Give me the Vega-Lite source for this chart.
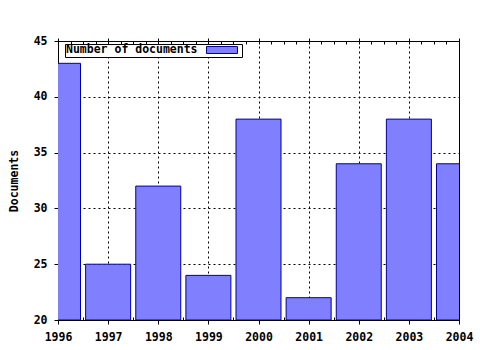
{
  "$schema": "https://vega.github.io/schema/vega-lite/v6.json",
  "width": 401,
  "height": 279,
  "autosize": {"type": "none"},
  "padding": {"left": 58, "top": 41, "right": 21, "bottom": 30},
  "background": "white",
  "data": {
    "values": [
      {"year": 1996, "docs": 43},
      {"year": 1997, "docs": 25},
      {"year": 1998, "docs": 32},
      {"year": 1999, "docs": 24},
      {"year": 2000, "docs": 38},
      {"year": 2001, "docs": 22},
      {"year": 2002, "docs": 34},
      {"year": 2003, "docs": 38},
      {"year": 2004, "docs": 34}
    ]
  },
  "config": {
    "view": {"stroke": "black", "strokeWidth": 1},
    "scale": {"continuousPadding": 0},
    "axis": {
      "domainColor": "black",
      "tickColor": "black",
      "labelColor": "black",
      "titleColor": "black",
      "labelFont": "DejaVu Sans Mono",
      "labelFontSize": 11.5,
      "labelFontWeight": "bold",
      "titleFont": "DejaVu Sans Mono",
      "titleFontSize": 11.5,
      "titleFontWeight": "bold",
      "gridColor": "black",
      "gridDash": [2, 3],
      "gridOpacity": 1,
      "gridWidth": 1,
      "labelFlush": false,
      "labelOverlap": false
    }
  },
  "layer": [
    {
      "mark": {"type": "bar", "size": 45, "clip": true, "stroke": "#0000a0", "strokeWidth": 1, "opacity": 1},
      "encoding": {
        "x": {
          "field": "year", "type": "quantitative",
          "scale": {"domain": [1996, 2004], "nice": false, "zero": false, "padding": 0},
          "axis": {"orient": "bottom", "values": [1996, 1997, 1998, 1999, 2000, 2001, 2002, 2003, 2004], "format": "d", "tickSize": 4, "labelPadding": 7, "grid": true, "title": null}
        },
        "y": {
          "field": "docs", "type": "quantitative",
          "scale": {"domain": [20, 45], "nice": false, "zero": false, "padding": 0},
          "axis": {"orient": "left", "values": [20, 25, 30, 35, 40, 45], "tickSize": 4, "labelPadding": 7, "grid": true, "title": "Documents", "titlePadding": 14}
        },
        "y2": {"datum": 20},
        "color": {
          "datum": "Number of documents",
          "scale": {"range": ["#8080ff"]},
          "legend": {
            "orient": "none", "legendX": 7, "legendY": 3,
            "title": "Number of documents", "titleOrient": "left",
            "titleFont": "DejaVu Sans Mono", "titleFontSize": 11.5, "titleFontWeight": "bold", "titleColor": "black",
            "titlePadding": 19,
            "labelExpr": "''", "labelOffset": 14,
            "symbolType": "M-4.43,-1H4.43V1H-4.43Z", "symbolSize": 49,
            "symbolStrokeColor": "#0000a0", "symbolStrokeWidth": 1, "symbolOpacity": 1,
            "strokeColor": "black", "fillColor": "white", "padding": 1
          }
        }
      }
    },
    {
      "mark": {"type": "point", "opacity": 0},
      "encoding": {
        "x": {
          "field": "year", "type": "quantitative",
          "axis": {"orient": "bottom", "values": [1996.25, 1996.5, 1996.75, 1997.25, 1997.5, 1997.75, 1998.25, 1998.5, 1998.75, 1999.25, 1999.5, 1999.75, 2000.25, 2000.5, 2000.75, 2001.25, 2001.5, 2001.75, 2002.25, 2002.5, 2002.75, 2003.25, 2003.5, 2003.75], "tickSize": -3, "labels": false, "domain": false, "grid": false, "title": null}
        },
        "y": {"field": "docs", "type": "quantitative", "axis": null}
      }
    },
    {
      "mark": {"type": "point", "opacity": 0},
      "encoding": {
        "x": {
          "field": "year", "type": "quantitative",
          "axis": {"orient": "top", "values": [1996, 1996.25, 1996.5, 1996.75, 1997, 1997.25, 1997.5, 1997.75, 1998, 1998.25, 1998.5, 1998.75, 1999, 1999.25, 1999.5, 1999.75, 2000, 2000.25, 2000.5, 2000.75, 2001, 2001.25, 2001.5, 2001.75, 2002, 2002.25, 2002.5, 2002.75, 2003, 2003.25, 2003.5, 2003.75, 2004], "tickSize": -3, "labels": false, "domain": false, "grid": false, "title": null}
        },
        "y": {"field": "docs", "type": "quantitative", "axis": null}
      }
    },
    {
      "mark": {"type": "point", "opacity": 0},
      "encoding": {
        "x": {
          "field": "year", "type": "quantitative",
          "axis": {"orient": "top", "values": [1996, 1997, 1998, 1999, 2000, 2001, 2002, 2003, 2004], "tickSize": 3, "labels": false, "domain": true, "grid": false, "title": null}
        },
        "y": {"field": "docs", "type": "quantitative", "axis": null}
      }
    }
  ],
  "resolve": {"axis": {"x": "independent", "y": "independent"}}
}
